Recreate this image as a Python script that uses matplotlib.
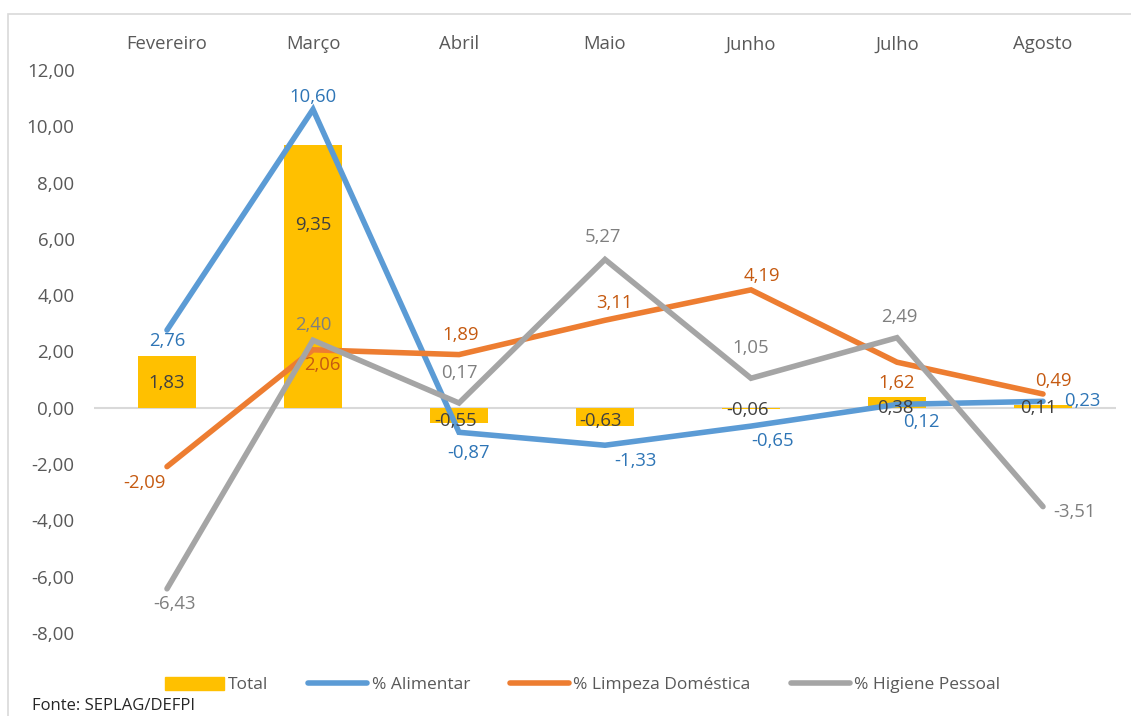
import matplotlib.pyplot as plt
from matplotlib.patches import Rectangle
from matplotlib.lines import Line2D
from matplotlib.patches import Patch

plt.rcParams['font.family'] = ['Open Sans', 'DejaVu Sans']

meses = ['Fevereiro', 'Março', 'Abril', 'Maio', 'Junho', 'Julho', 'Agosto']
total = [1.83, 9.35, -0.55, -0.63, -0.06, 0.38, 0.11]
alimentar = [2.76, 10.60, -0.87, -1.33, -0.65, 0.12, 0.23]
limpeza = [-2.09, 2.06, 1.89, 3.11, 4.19, 1.62, 0.49]
higiene = [-6.43, 2.40, 0.17, 5.27, 1.05, 2.49, -3.51]

# label offsets in pixels (dx, dy) from each point
off_total = [(0, -27), (0, -80), (-3, 2), (-4, 5), (-3, -1), (-2, -11), (-5, -3)]
off_alim = [(0, -11), (0, 12), (9, -21), (30, -16), (22, -15), (24, -18), (39, 0)]
off_limp = [(-23, -16), (9, -15), (2, 20), (9, 17), (11, 14), (0, -21), (10, 13)]
off_hig = [(7, -15), (0, 15), (0, 30), (-2, 22), (0, 30), (2, 21), (32, -5)]

def fmt(v):
    return f'{v:.2f}'.replace('.', ',')

fig = plt.figure(figsize=(11.31, 7.16), dpi=100)
fig.patches.append(Rectangle((8 / 1131, -0.1), 1.2, 1.1 - 14 / 716,
                             transform=fig.transFigure, fill=False,
                             edgecolor='#D9D9D9', lw=1.2))
ax = fig.add_axes([94 / 1131, 1 - 633 / 716, 1022 / 1131, 563 / 716])

x = list(range(len(meses)))
ax.bar(x, total, width=0.4, color='#FFC000', zorder=1)
ax.axhline(0, color='#D9D9D9', lw=1.5, zorder=0.5)
ax.plot(x, alimentar, color='#5B9BD5', lw=4, solid_capstyle='round',
        solid_joinstyle='miter', zorder=2)
ax.plot(x, limpeza, color='#ED7D31', lw=4, solid_capstyle='round',
        solid_joinstyle='miter', zorder=2)
ax.plot(x, higiene, color='#A5A5A5', lw=4, solid_capstyle='round',
        solid_joinstyle='miter', zorder=2)

series = [(total, off_total, '#404040'), (alimentar, off_alim, '#2E75B6'),
          (limpeza, off_limp, '#C55A11'), (higiene, off_hig, '#7F7F7F')]
for vals, offs, col in series:
    for i, v in enumerate(vals):
        ax.annotate(fmt(v), (i, v), xytext=offs[i], textcoords='offset pixels',
                    ha='center', va='center', color=col, fontsize=13.3, zorder=5)

ax.set_xlim(-0.5, 6.5)
ax.set_ylim(-8, 12)
ax.set_yticks(range(-8, 13, 2))
ax.set_yticklabels([fmt(t) for t in range(-8, 13, 2)], color='#595959', fontsize=13.5)
ax.xaxis.tick_top()
ax.set_xticks(x)
ax.set_xticklabels(meses, color='#595959', fontsize=13.3)
ax.tick_params(axis='both', length=0)
ax.tick_params(axis='y', pad=14)
ax.tick_params(axis='x', pad=12)
for s in ax.spines.values():
    s.set_visible(False)

handles = [Patch(color='#FFC000'),
           Line2D([], [], color='#5B9BD5', lw=4, solid_capstyle='round'),
           Line2D([], [], color='#ED7D31', lw=4, solid_capstyle='round'),
           Line2D([], [], color='#A5A5A5', lw=4, solid_capstyle='round')]
labels = ['Total', '% Alimentar', '% Limpeza Doméstica', '% Higiene Pessoal']
leg = fig.legend(handles, labels, loc='center', bbox_to_anchor=(0.515, 1 - 685 / 716),
                 ncol=4, frameon=False, fontsize=12.5, handlelength=3.4,
                 handleheight=0.8, handletextpad=0.25, columnspacing=2.3)
for t in leg.get_texts():
    t.set_color('#595959')

fig.text(32 / 1131, 1 - 698 / 716, 'Fonte: SEPLAG/DEFPI', va='top', ha='left',
         fontsize=12, color='#262626')

fig.savefig('out.png', dpi=100)
